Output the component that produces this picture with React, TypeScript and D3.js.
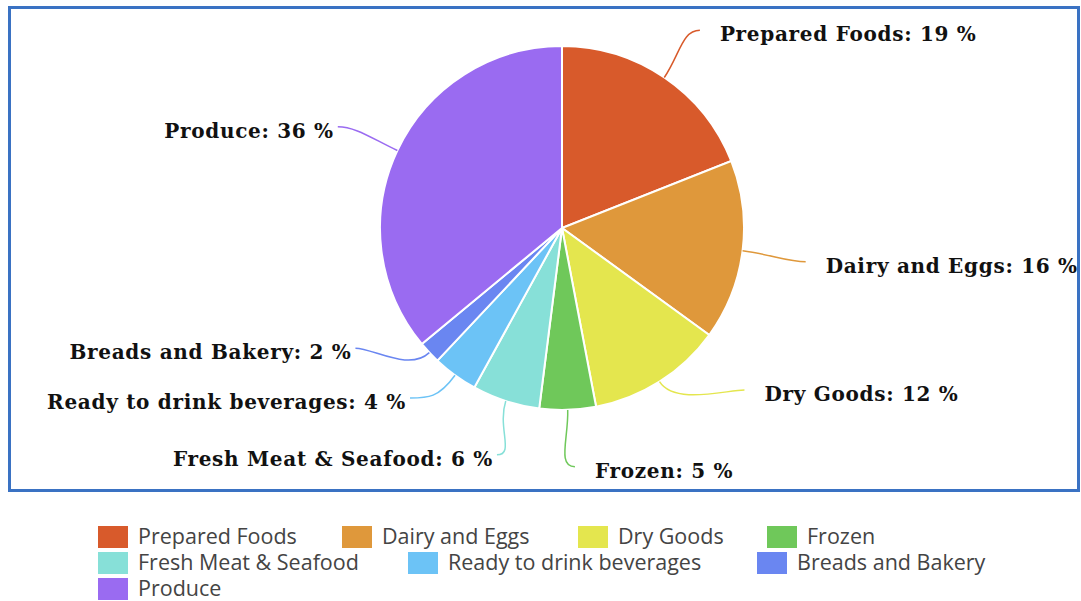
import React from "react";
import * as d3 from "d3";

const categories = [
  "Prepared Foods",
  "Dairy and Eggs",
  "Dry Goods",
  "Frozen",
  "Fresh Meat & Seafood",
  "Ready to drink beverages",
  "Breads and Bakery",
  "Produce",
];
const values = [19, 16, 12, 5, 6, 4, 2, 36];
const colors = ["#d85a2b", "#df983b", "#e4e64e", "#6fc85a", "#87e0d8", "#6cc3f6", "#6a86f1", "#9a6bf1"];

// layout-only: label angle nudges (degrees) and label radii to avoid overlap
const labelNudge = [0.7, 0.7, -16, -1.3, -2, 5.8, 13, -0.9];
const labelRadius = [241, 246, 244, 239, 236, 228, 239, 246];
// legend rows (indices into categories) and column offsets
const legendRows = [[0, 1, 2, 3], [4, 5, 6], [7]];
const legendCols = [[0, 244, 480, 669], [0, 310, 659], [0]];

const W = 1081;
const H = 601;

export default function App() {
  const cx = 562;
  const cy = 228;
  const r = 182;

  const pie = d3.pie<number>().sort(null).value((d) => d)(values);
  const arc = d3.arc<d3.PieArcDatum<number>>().innerRadius(0).outerRadius(r);

  const toXY = (ang: number, rad: number): [number, number] => [
    rad * Math.sin(ang),
    -rad * Math.cos(ang),
  ];

  return (
    <svg
      width={W}
      height={H}
      style={{ display: "block", position: "absolute", left: 0, top: 0 }}
    >
      <rect x={9.5} y={7.5} width={1069} height={483} fill="#fff" stroke="#3a72c3" strokeWidth={3} />
      <g transform={`translate(${cx},${cy})`}>
        {pie.map((p, i) => (
          <path key={i} d={arc(p) || ""} fill={colors[i]} stroke="#fff" strokeWidth={2} />
        ))}
        {pie.map((p, i) => {
          const mid = (p.startAngle + p.endAngle) / 2;
          const la = mid + (labelNudge[i] * Math.PI) / 180;
          const [x0, y0] = toXY(mid, r);
          const [c1x, c1y] = toXY(mid, r + 28);
          const [x1, y1] = toXY(la, labelRadius[i]);
          const right = Math.sin(la) > 0;
          const c2x = x1 + (right ? -18 : 18);
          const path = `M${x0},${y0} C${c1x},${c1y} ${c2x},${y1} ${x1},${y1}`;
          const tx = right ? x1 + 20 : x1 - 4;
          return (
            <g key={"l" + i}>
              <path d={path} fill="none" stroke={colors[i]} strokeWidth={1.5} />
              <text
                x={tx}
                y={y1 + 11}
                textAnchor={right ? "start" : "end"}
                fontFamily="'DejaVu Serif', serif"
                fontWeight="bold"
                fontSize={20}
                letterSpacing={0.7}
                fill="#111"
              >
                {`${categories[i]}: ${values[i]} %`}
              </text>
            </g>
          );
        })}
      </g>
      <g transform="translate(98,525)">
        {legendRows.map((row, ri) =>
          row.map((ci, k) => (
            <g key={ci} transform={`translate(${legendCols[ri][k]},${ri * 26})`}>
              <rect x={0} y={1} width={30} height={22} fill={colors[ci]} />
              <text x={40} y={18.5} fontFamily="'Open Sans', sans-serif" fontSize={21.5} fill="#444">
                {categories[ci]}
              </text>
            </g>
          ))
        )}
      </g>
    </svg>
  );
}
